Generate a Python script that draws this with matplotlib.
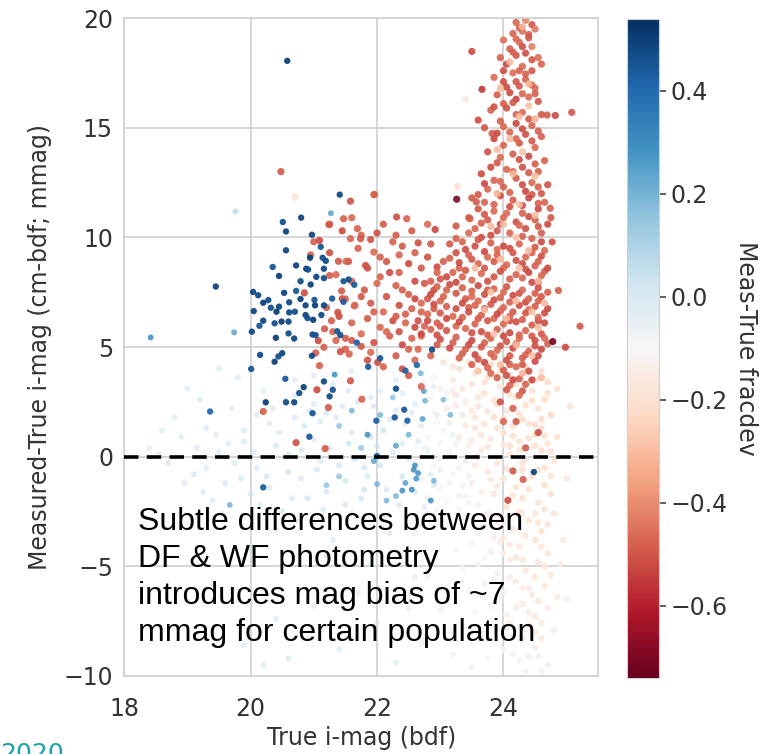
import matplotlib.pyplot as plt
from matplotlib.colors import Normalize
from matplotlib.cm import ScalarMappable

# (true i-mag, measured-true mmag, meas-true fracdev)
pale_pts = [
    (18.4, 0.4, 0.03), (18.7, -0.3, 0.05), (18.9, 0.9, 0.02), (19.1, -0.8, 0.06), (19.3, 1.3, 0.04),
    (19.5, 0.2, 0.03), (19.2, 2.6, 0.05), (18.8, 1.8, 0.02), (19.6, -1.2, 0.06), (19.9, 0.7, 0.04),
    (20.1, -0.5, 0.05), (20.3, 1.5, 0.03), (20.6, 0.1, 0.07), (20.8, -1.0, 0.05), (21.0, 0.8, 0.04),
    (21.2, 2.0, 0.06), (21.4, -0.4, 0.08), (21.6, 1.1, 0.05), (21.8, -1.5, 0.07), (22.0, 0.5, 0.06),
    (22.2, 1.7, 0.04), (22.4, -0.9, 0.08), (22.6, 2.4, 0.03), (22.8, 0.3, 0.02), (23.0, -0.6, 0.01),
    (23.2, 1.0, -0.02), (19.4, -2.0, 0.04), (19.7, 2.2, 0.03), (20.0, -1.7, 0.05), (20.2, 3.0, 0.02),
    (20.5, -2.5, 0.06), (20.7, 2.8, 0.04), (20.9, -1.9, 0.07), (21.1, -0.2, 0.05), (21.3, 3.3, 0.03),
    (21.5, -2.2, 0.06), (21.7, 2.5, 0.05), (21.9, 0.9, 0.07), (22.1, -2.8, 0.04), (22.3, 3.5, 0.02),
    (22.5, -0.1, 0.06), (22.7, 1.4, 0.03), (22.9, -1.3, 0.04), (23.1, 2.9, -0.03), (19.8, 3.6, 0.03),
    (20.4, -3.3, 0.05), (21.0, -3.0, 0.04), (21.6, 3.9, 0.02), (22.2, -3.5, 0.05), (22.8, -2.6, 0.03),
    (20.1, 1.9, 0.04), (20.6, -0.7, 0.06), (21.1, 1.6, 0.05), (21.5, -1.1, 0.07), (21.9, 2.7, 0.04),
    (22.4, 0.6, 0.05), (22.9, 3.2, 0.01), (20.3, -1.4, 0.05), (20.8, 0.3, 0.06), (21.3, -3.8, 0.03),
    (21.8, -0.5, 0.06), (22.3, 2.1, 0.04), (22.7, -3.1, 0.03), (23.3, 0.8, -0.04), (20.0, -4.2, 0.04),
    (20.5, -5.0, 0.03), (21.2, -4.5, 0.05), (21.7, -6.2, 0.03), (22.6, -5.5, 0.02), (23.4, -1.8, -0.05),
    (19.0, 3.1, 0.03), (18.6, 1.2, 0.02), (19.5, 4.0, 0.04), (20.9, -8.3, 0.04), (22.0, -7.6, 0.03),
    (20.6, -9.2, 0.05), (21.4, -8.8, 0.03), (22.5, -6.9, 0.02), (23.2, -8.0, -0.05), (20.2, -9.5, 0.04),
    (19.3, -0.5, 0.03), (19.9, 1.2, 0.05), (20.4, 0.5, 0.06), (21.0, 2.4, 0.04), (21.6, -2.6, 0.05),
    (22.1, 1.2, 0.07), (22.6, -1.6, 0.06), (20.7, 3.5, 0.03), (21.2, -1.6, 0.06), (22.4, 2.9, 0.03),
    (19.15, 0.4, 0.04), (19.45, 1.0, 0.03), (19.75, -0.3, 0.05), (20.05, 0.2, 0.04), (20.25, -0.9, 0.06),
    (20.45, 1.1, 0.05), (20.65, -1.9, 0.04), (20.85, 1.4, 0.06), (21.05, -0.6, 0.07), (21.25, 0.4, 0.05),
    (21.45, 2.3, 0.04), (21.65, -0.1, 0.08), (21.85, -0.9, 0.06), (22.05, -0.4, 0.07), (22.25, 0.2, 0.05),
    (22.45, 1.5, 0.04), (22.65, 0.7, 0.03), (22.85, -0.8, 0.02), (19.55, -2.6, 0.04), (19.85, -1.0, 0.05),
    (20.15, -2.2, 0.04), (20.35, 2.2, 0.03), (20.55, 2.6, 0.05), (20.75, -2.9, 0.04), (20.95, 2.1, 0.06),
    (21.15, -2.4, 0.05), (21.35, 1.8, 0.04), (21.55, 0.6, 0.07), (21.75, -1.9, 0.06), (21.95, 2.3, 0.04),
    (22.15, -1.5, 0.06), (22.35, -2.2, 0.05), (22.55, 2.0, 0.03), (22.75, -2.3, 0.03), (22.95, 1.9, 0.01),
    (23.15, -1.2, -0.03), (19.25, -1.6, 0.04), (18.95, -1.2, 0.03), (18.55, 0.1, 0.02), (19.65, 0.6, 0.04),
    (20.7, 1.8, 0.05), (21.55, 3.0, 0.04), (22.05, 3.0, 0.03), (21.0, 3.7, 0.03), (22.5, -4.2, 0.03),
    (21.9, -4.9, 0.04), (21.0, -6.8, 0.03), (20.4, -7.4, 0.04), (19.9, -8.6, 0.03), (22.3, -9.4, 0.02),
]

pink_pts = [
    (23.05, 4.3, -0.18), (23.3, 4.0, -0.2), (23.55, 3.8, -0.16), (23.8, 4.2, -0.22), (24.1, 3.7, -0.19),
    (24.35, 4.1, -0.24), (24.6, 3.9, -0.2), (22.9, 3.6, -0.12), (23.2, 3.5, -0.15), (24.7, 3.4, -0.22),
    (23.0, 3.1, -0.13), (23.25, 2.8, -0.16), (23.5, 3.3, -0.18), (23.7, 2.9, -0.2), (23.95, 3.2, -0.17),
    (24.2, 2.7, -0.21), (24.45, 3.0, -0.19), (24.65, 2.6, -0.23), (22.85, 2.7, -0.1), (23.4, 2.5, -0.15),
    (23.1, 2.2, -0.14), (23.35, 1.9, -0.16), (23.6, 2.3, -0.18), (23.85, 1.8, -0.2), (24.05, 2.1, -0.17),
    (24.3, 1.7, -0.21), (24.55, 2.2, -0.19), (24.75, 1.9, -0.23), (22.95, 1.6, -0.11), (23.7, 1.5, -0.17),
    (24.4, 1.5, -0.2), (23.05, 1.2, -0.12), (23.3, 0.9, -0.15), (23.55, 1.3, -0.17), (23.8, 0.8, -0.18),
    (24.0, 1.1, -0.2), (24.25, 0.7, -0.19), (24.5, 1.0, -0.22), (24.7, 0.6, -0.2), (22.8, 0.9, -0.09),
    (23.45, 0.5, -0.14), (24.15, 1.4, -0.21), (23.15, 0.2, -0.12), (23.4, -0.2, -0.14), (23.65, 0.3, -0.16),
    (23.9, -0.3, -0.17), (24.1, 0.1, -0.19), (24.35, -0.1, -0.2), (24.6, 0.3, -0.21), (22.9, -0.4, -0.09),
    (24.8, -0.2, -0.18), (23.2, -0.8, -0.12), (23.5, -1.2, -0.14), (23.75, -0.7, -0.16), (24.0, -1.0, -0.18),
    (24.2, -1.4, -0.19), (24.45, -0.9, -0.2), (24.65, -1.3, -0.21), (23.0, -1.4, -0.1), (22.7, -1.0, -0.08),
    (23.3, -1.8, -0.12), (23.6, -2.2, -0.14), (23.85, -1.7, -0.16), (24.05, -2.3, -0.18), (24.3, -1.9, -0.2),
    (24.55, -2.1, -0.19), (24.75, -1.7, -0.21), (22.95, -2.4, -0.09), (23.1, -2.0, -0.1), (23.4, -2.8, -0.12),
    (23.7, -3.2, -0.14), (23.95, -2.7, -0.16), (24.15, -3.3, -0.17), (24.4, -2.9, -0.19), (24.6, -3.4, -0.2),
    (23.15, -3.1, -0.1), (24.8, -2.6, -0.18), (23.5, -3.9, -0.12), (23.8, -4.3, -0.14), (24.0, -3.7, -0.15),
    (24.25, -4.1, -0.17), (24.5, -3.8, -0.19), (24.7, -4.4, -0.18), (23.25, -4.2, -0.1), (23.6, -4.9, -0.12),
    (23.9, -5.3, -0.13), (24.1, -4.7, -0.15), (24.35, -5.2, -0.17), (24.55, -4.8, -0.18), (24.75, -5.4, -0.16),
    (23.35, -5.1, -0.1), (23.7, -5.8, -0.12), (24.0, -6.2, -0.13), (24.2, -5.7, -0.15), (24.45, -6.3, -0.16),
    (24.65, -5.9, -0.17), (23.45, -6.1, -0.1), (24.85, -6.4, -0.14), (23.8, -6.8, -0.11), (24.05, -7.2, -0.13),
    (24.3, -6.7, -0.15), (24.5, -7.3, -0.16), (24.7, -6.9, -0.15), (23.55, -7.1, -0.1), (23.9, -7.8, -0.11),
    (24.15, -8.2, -0.13), (24.4, -7.7, -0.14), (24.6, -8.3, -0.15), (23.65, -8.0, -0.1), (24.8, -7.9, -0.13),
    (24.0, -8.8, -0.11), (24.25, -9.3, -0.12), (24.5, -8.7, -0.14), (23.75, -9.2, -0.1), (24.7, -9.5, -0.13),
    (24.35, -9.8, -0.12), (23.5, -9.6, -0.09), (22.6, -3.5, -0.07), (22.8, -5.5, -0.08), (23.0, -7.0, -0.08),
    (22.7, -8.5, -0.07), (23.2, -9.0, -0.08), (22.5, -6.3, -0.06), (25.0, -1.0, -0.16), (25.05, 2.3, -0.18),
    (24.95, -3.8, -0.15), (25.0, -6.5, -0.14), (23.9, 2.4, -0.22), (24.1, 0.5, -0.21), (24.3, -0.6, -0.2),
    (24.5, -2.6, -0.18), (24.2, -4.6, -0.16), (24.4, -6.0, -0.15), (24.1, -7.6, -0.14), (24.55, -9.1, -0.13),
    (23.6, 0.0, -0.15), (23.3, -2.4, -0.11), (23.55, 1.8, -0.17), (23.2, 3.0, -0.15), (24.6, 1.3, -0.22),
    (24.85, 0.9, -0.2), (24.9, -4.9, -0.15), (23.95, -3.9, -0.15), (24.25, -2.5, -0.18), (24.65, -0.5, -0.2),
    (23.75, 3.6, -0.21), (24.5, 3.5, -0.23), (24.85, 3.1, -0.2), (23.0, 0.6, -0.1), (23.45, -0.9, -0.13),
    (23.2, 4.1, -0.17), (23.45, 4.3, -0.19), (23.7, 3.4, -0.2), (23.95, 3.9, -0.21), (24.2, 3.3, -0.2),
    (24.45, 2.55, -0.22), (24.7, 2.9, -0.21), (23.35, 3.1, -0.16), (23.6, 2.7, -0.18), (23.85, 2.6, -0.19),
    (24.1, 2.85, -0.2), (24.35, 2.35, -0.21), (24.6, 1.7, -0.22), (23.25, 2.35, -0.15), (23.5, 2.1, -0.17),
    (23.75, 2.05, -0.18), (24.0, 1.75, -0.2), (24.25, 1.95, -0.2), (24.5, 1.45, -0.21), (23.15, 1.55, -0.14),
    (23.4, 1.4, -0.16), (23.65, 1.0, -0.17), (23.9, 1.3, -0.19), (24.15, 0.95, -0.2), (24.4, 0.85, -0.2),
    (24.65, 0.95, -0.21), (23.25, 0.55, -0.13), (23.5, 0.75, -0.15), (23.75, 0.45, -0.17), (24.0, 0.55, -0.18),
    (24.25, 0.3, -0.19), (24.5, 0.5, -0.2), (24.75, 0.25, -0.2), (23.3, -0.5, -0.13), (23.55, -0.4, -0.15),
    (23.8, -1.05, -0.16), (24.05, -0.55, -0.18), (24.3, -0.3, -0.19), (24.55, -0.6, -0.2), (24.75, -0.9, -0.19),
    (23.35, -1.3, -0.12), (23.65, -1.6, -0.14), (23.9, -1.35, -0.16), (24.15, -1.75, -0.18), (24.4, -1.5, -0.19),
    (24.65, -2.4, -0.19), (23.45, -2.1, -0.12), (23.75, -2.6, -0.14), (24.0, -3.0, -0.16), (24.3, -2.6, -0.18),
    (24.55, -3.0, -0.19), (24.7, -3.1, -0.18), (23.6, -3.5, -0.13), (23.85, -3.7, -0.14), (24.1, -4.0, -0.16),
    (24.35, -3.6, -0.18), (24.6, -4.1, -0.18), (23.7, -4.6, -0.12), (24.0, -4.4, -0.14), (24.3, -4.7, -0.16),
    (24.5, -5.5, -0.17), (24.65, -5.0, -0.17), (23.85, -5.6, -0.12), (24.1, -5.5, -0.14), (24.3, -6.0, -0.15),
    (24.55, -6.6, -0.16), (23.95, -6.5, -0.12), (24.2, -6.9, -0.14), (24.4, -7.1, -0.15), (24.6, -7.6, -0.15),
    (24.05, -7.8, -0.12), (24.3, -8.3, -0.13), (24.5, -8.0, -0.14), (24.15, -9.0, -0.12), (24.4, -9.1, -0.13),
    (24.6, -9.8, -0.13), (22.9, 2.1, -0.1), (23.0, -0.1, -0.09), (22.8, -1.9, -0.08), (22.75, 0.4, -0.08),
]

lightblue_pts = [
    (21.27, 11.1, 0.25), (18.42, 5.44, 0.3), (19.74, 5.67, 0.25), (21.33, 3.74, 0.3), (22.69, 3.8, 0.2),
    (22.74, 2.99, 0.25), (22.76, 2.55, 0.2), (23.16, 1.91, 0.2), (22.72, 1.72, 0.25), (22.5, 1.0, 0.2),
    (22.3, 0.5, 0.25), (22.6, -0.4, 0.3), (22.65, -0.75, 0.3), (22.45, -1.2, 0.25), (22.55, -1.5, 0.3),
    (22.3, -1.8, 0.2), (22.0, -1.25, 0.2), (21.95, -0.2, 0.25), (21.75, 0.4, 0.15), (22.15, -2.0, 0.2),
    (22.9, -1.1, 0.2), (22.85, -2.0, 0.3), (21.85, 1.0, 0.3), (22.05, 1.9, 0.2), (19.67, -2.2, 0.2),
    (21.4, -0.9, 0.15), (21.2, -1.3, 0.15), (22.25, 2.7, 0.15), (21.6, 2.1, 0.2), (21.4, 1.4, 0.15),
    (19.76, 11.18, 0.06), (22.58, -0.6, 0.3), (22.62, -1.0, 0.28), (22.4, -1.55, 0.3), (23.05, 2.6, 0.18),
]

blue_pts = [
    (20.58, 18.05, 0.5), (21.41, 11.95, 0.47), (20.80, 10.90, 0.48), (20.51, 10.70, 0.46), (20.56, 10.27, 0.49),
    (20.97, 10.12, 0.47), (21.11, 9.57, 0.45), (20.56, 9.41, 0.48), (20.94, 9.07, 0.5), (21.14, 9.07, 0.46),
    (21.19, 8.93, 0.47), (20.72, 8.72, 0.49), (20.35, 8.65, 0.45), (20.88, 8.57, 0.48), (20.91, 8.53, 0.46),
    (21.16, 8.57, 0.47), (20.45, 8.24, 0.5), (21.04, 8.20, 0.48), (21.16, 8.14, 0.46), (20.79, 8.0, 0.47),
    (20.95, 7.85, 0.49), (21.47, 8.0, 0.45), (21.64, 7.84, 0.44), (21.55, 8.08, 0.46), (20.04, 7.51, 0.48),
    (20.12, 7.36, 0.47), (20.20, 7.02, 0.5), (20.28, 7.14, 0.46), (20.53, 7.47, 0.48), (20.72, 7.56, 0.45),
    (20.79, 7.19, 0.49), (20.61, 7.04, 0.47), (20.32, 6.79, 0.46), (20.45, 6.84, 0.48), (20.41, 6.61, 0.5),
    (20.61, 6.58, 0.47), (20.70, 6.61, 0.46), (20.87, 6.9, 0.48), (21.01, 7.15, 0.45), (21.02, 6.9, 0.49),
    (21.16, 6.9, 0.47), (21.29, 7.21, 0.44), (21.47, 7.06, 0.43), (20.87, 6.46, 0.48), (20.90, 6.32, 0.46),
    (20.99, 6.24, 0.49), (21.12, 6.46, 0.47), (20.20, 6.2, 0.48), (20.38, 6.08, 0.46), (20.49, 6.16, 0.5),
    (20.60, 6.16, 0.47), (20.14, 5.97, 0.45), (20.05, 6.64, 0.48), (20.02, 5.7, 0.47), (20.40, 5.42, 0.49),
    (20.60, 5.62, 0.46), (20.69, 5.39, 0.48), (20.98, 5.57, 0.47), (21.03, 5.54, 0.45), (21.37, 5.72, 0.44),
    (21.42, 5.54, 0.46), (19.45, 7.76, 0.48), (20.15, 4.64, 0.47), (20.38, 4.33, 0.49), (20.44, 4.57, 0.46),
    (20.50, 4.72, 0.48), (20.97, 4.6, 0.47), (20.01, 4.0, 0.45), (20.55, 3.55, 0.44), (21.16, 3.43, 0.47),
    (20.84, 3.17, 0.48), (20.77, 2.9, 0.46), (21.30, 3.05, 0.45), (21.25, 2.75, 0.47), (20.24, 2.48, 0.49),
    (20.56, 2.48, 0.46), (20.69, 2.48, 0.48), (20.98, 1.98, 0.45), (19.36, 2.06, 0.4), (20.93, 0.91, 0.44),
    (20.20, -1.4, 0.43), (22.87, 4.88, 0.47), (22.05, 4.49, 0.45), (22.63, 4.18, 0.4), (22.45, 3.92, 0.42),
    (22.30, 3.10, 0.46), (22.43, 2.14, 0.44), (22.28, 1.79, 0.45), (22.48, 1.64, 0.4), (21.99, 1.64, 0.43),
    (22.00, 0.03, 0.42), (24.48, -0.7, 0.48), (21.68, 5.2, 0.42), (21.86, 4.1, 0.44),
]

red_pts = [
    # narrow column at the faint end
    (24.2, 19.8, -0.47), (24.35, 19.9, -0.42), (24.45, 19.7, -0.5), (24.3, 19.4, -0.45), (24.15, 19.3, -0.48),
    (24.5, 19.5, -0.44), (24.4, 19.1, -0.5), (24.25, 18.9, -0.46), (24.1, 18.6, -0.49), (24.45, 18.7, -0.43),
    (24.35, 18.4, -0.51), (24.0, 19.0, -0.45), (23.95, 18.2, -0.48), (24.2, 18.3, -0.5), (24.55, 18.2, -0.46),
    (24.05, 17.9, -0.52), (24.3, 17.8, -0.47), (24.45, 17.6, -0.5), (24.15, 17.5, -0.45), (24.6, 17.9, -0.49),
    (23.85, 17.3, -0.47), (24.0, 17.1, -0.51), (24.35, 17.2, -0.48), (24.25, 16.9, -0.5), (24.5, 16.8, -0.46),
    (24.1, 16.6, -0.52), (23.9, 16.5, -0.49), (24.4, 16.4, -0.47), (24.55, 16.2, -0.5), (24.0, 16.1, -0.48),
    (24.2, 16.3, -0.53), (23.50, 18.48, -0.52), (23.66, 16.75, -0.55), (25.08, 15.7, -0.5), (24.82, 15.56, -0.52),
    (24.69, 15.58, -0.49), (23.8, 15.8, -0.48), (24.05, 15.9, -0.51), (24.3, 15.7, -0.47), (24.6, 15.6, -0.5),
    (23.95, 15.3, -0.49), (24.2, 15.2, -0.52), (24.45, 15.1, -0.48), (23.7, 15.0, -0.5), (24.1, 14.8, -0.47),
    (24.35, 14.7, -0.51), (24.6, 14.6, -0.49), (23.85, 14.5, -0.52), (24.0, 14.2, -0.48), (24.25, 14.3, -0.5),
    (24.5, 14.1, -0.47), (23.75, 13.9, -0.51), (24.15, 13.8, -0.49), (24.4, 13.7, -0.52), (24.65, 13.5, -0.48),
    (23.9, 13.4, -0.5), (24.05, 13.1, -0.47), (24.3, 13.2, -0.51), (24.55, 13.0, -0.49), (23.65, 12.9, -0.52),
    (23.85, 12.6, -0.48), (24.2, 12.7, -0.5), (24.45, 12.5, -0.47), (24.7, 12.4, -0.51), (24.0, 12.3, -0.49),
    (24.35, 12.1, -0.52), (23.75, 12.2, -0.48), (24.6, 12.0, -0.5), (23.82, 14.74, -0.5), (23.6, 15.35, -0.52),
    (24.25, 19.55, -0.48), (24.4, 19.25, -0.5), (24.2, 19.05, -0.47), (24.3, 18.7, -0.51), (24.15, 18.45, -0.49),
    (24.45, 18.1, -0.5), (24.25, 17.6, -0.48), (24.0, 17.6, -0.51), (24.35, 17.45, -0.49), (24.2, 17.1, -0.5),
    (24.45, 16.95, -0.47), (24.05, 16.85, -0.52), (24.3, 16.55, -0.48), (24.15, 16.15, -0.5), (24.5, 16.55, -0.49),
    (23.85, 15.95, -0.51), (24.2, 15.6, -0.48), (24.4, 15.4, -0.5), (24.0, 15.05, -0.47), (24.3, 14.95, -0.51),
    (24.55, 14.85, -0.49), (23.9, 14.75, -0.52), (24.2, 14.5, -0.48), (24.45, 14.4, -0.5), (23.95, 13.65, -0.47),
    (24.25, 13.55, -0.51), (24.5, 13.35, -0.49), (23.8, 13.2, -0.52), (24.15, 13.0, -0.48), (24.4, 12.95, -0.5),
    (23.95, 12.55, -0.47), (24.3, 12.4, -0.51), (24.55, 12.3, -0.49), (23.7, 12.45, -0.52), (24.1, 12.05, -0.48),
    (24.45, 11.95, -0.5),
    # widening towards the bright end
    (23.5, 11.8, -0.5), (23.7, 11.6, -0.48), (23.95, 11.9, -0.51), (24.15, 11.7, -0.49), (24.4, 11.8, -0.52),
    (24.65, 11.6, -0.48), (23.6, 11.3, -0.5), (23.85, 11.2, -0.47), (24.1, 11.4, -0.51), (24.3, 11.1, -0.49),
    (24.55, 11.3, -0.52), (23.45, 10.9, -0.48), (23.75, 10.8, -0.5), (24.0, 10.9, -0.47), (24.2, 10.7, -0.51),
    (24.5, 10.8, -0.49), (24.7, 10.6, -0.52), (23.55, 10.4, -0.48), (23.9, 10.3, -0.5), (24.1, 10.2, -0.47),
    (24.35, 10.4, -0.51), (24.6, 10.2, -0.49), (23.65, 10.0, -0.52), (24.45, 9.95, -0.48), (23.57, 11.62, -0.5),
    (23.47, 10.85, -0.49), (22.92, 10.36, -0.52), (23.25, 10.52, -0.5), (22.31, 10.93, -0.51), (22.47, 10.85, -0.49),
    (21.95, 11.95, -0.5), (24.74, 11.33, -0.48), (24.75, 10.9, -0.5), (24.77, 9.79, -0.51), (24.87, 7.58, -0.49),
    (25.21, 5.95, -0.5), (24.98, 4.99, -0.52),
    (23.6, 11.95, -0.5), (23.85, 11.5, -0.48), (24.3, 11.45, -0.51), (24.55, 11.55, -0.49), (23.7, 11.05, -0.5),
    (24.05, 11.1, -0.47), (24.4, 10.95, -0.51), (23.65, 10.65, -0.49), (23.95, 10.6, -0.52), (24.25, 10.55, -0.48),
    (24.55, 10.5, -0.5), (23.45, 10.2, -0.47), (23.8, 10.1, -0.51), (24.3, 10.05, -0.49), (24.6, 9.8, -0.52),
    (23.25, 9.95, -0.48), (23.6, 9.9, -0.5), (23.9, 9.45, -0.47), (24.1, 9.5, -0.51), (24.45, 9.3, -0.49),
    (23.4, 9.45, -0.52), (23.15, 9.05, -0.48), (23.5, 9.0, -0.5), (23.75, 9.1, -0.47), (24.2, 8.95, -0.51),
    (24.55, 8.9, -0.49), (22.95, 8.65, -0.52), (23.3, 8.6, -0.48), (23.7, 8.6, -0.5), (24.0, 8.6, -0.47),
    (24.35, 8.55, -0.51), (24.65, 8.45, -0.49), (23.1, 8.2, -0.52), (23.35, 8.2, -0.48), (23.85, 8.2, -0.5),
    (24.3, 8.15, -0.47), (24.55, 7.95, -0.51), (22.85, 8.0, -0.49), (23.25, 7.95, -0.52), (23.5, 7.55, -0.48),
    (23.75, 7.6, -0.5), (24.0, 7.5, -0.47), (24.25, 7.45, -0.51), (24.5, 7.45, -0.49), (22.9, 7.6, -0.52),
    (23.1, 7.6, -0.48), (23.4, 7.2, -0.5), (23.6, 7.1, -0.47), (23.85, 7.15, -0.51), (24.1, 7.05, -0.49),
    (24.35, 7.05, -0.52), (24.55, 7.1, -0.48), (22.8, 7.2, -0.5), (23.0, 7.1, -0.47), (23.25, 6.75, -0.51),
    (23.45, 6.8, -0.49), (23.7, 6.75, -0.52), (23.95, 6.65, -0.48), (24.15, 6.6, -0.5), (24.4, 6.7, -0.47),
    (24.65, 6.55, -0.51), (22.9, 6.75, -0.49), (23.1, 6.3, -0.52), (23.35, 6.35, -0.48), (23.6, 6.3, -0.5),
    (23.85, 6.3, -0.47), (24.1, 6.2, -0.51), (24.3, 6.25, -0.49), (24.55, 6.2, -0.52), (22.75, 5.95, -0.48),
    (23.0, 5.95, -0.5), (23.25, 5.95, -0.47), (23.5, 5.65, -0.51), (23.75, 5.55, -0.49), (24.0, 5.5, -0.52),
    (24.25, 5.55, -0.48), (24.45, 5.5, -0.5), (24.65, 5.4, -0.47), (22.95, 5.55, -0.51), (23.2, 5.2, -0.49),
    (23.45, 5.1, -0.52), (23.7, 5.2, -0.48), (23.95, 5.05, -0.5), (24.2, 5.15, -0.47), (24.5, 5.05, -0.51),
    (23.35, 4.7, -0.49), (23.55, 4.65, -0.52), (23.8, 4.7, -0.48), (24.1, 4.6, -0.5), (24.35, 4.65, -0.47),
    (24.55, 4.6, -0.51), (23.5, 4.2, -0.49), (23.7, 4.3, -0.52), (24.1, 4.2, -0.48), (24.3, 4.2, -0.5),
    (23.8, 3.8, -0.47), (24.05, 3.7, -0.51), (24.25, 3.55, -0.49), (24.45, 3.5, -0.52), (24.1, 3.25, -0.48),
    (24.3, 3.0, -0.5),
    (23.15, 9.7, -0.5), (23.35, 9.8, -0.48), (23.55, 9.6, -0.51), (23.8, 9.75, -0.49), (24.0, 9.6, -0.52),
    (24.25, 9.7, -0.48), (24.5, 9.55, -0.5), (24.65, 9.4, -0.47), (23.25, 9.3, -0.51), (23.45, 9.2, -0.49),
    (23.7, 9.35, -0.52), (23.9, 9.2, -0.48), (24.15, 9.3, -0.5), (24.35, 9.1, -0.47), (24.6, 9.15, -0.51),
    (23.05, 8.9, -0.49), (23.3, 8.85, -0.52), (23.6, 8.8, -0.48), (23.85, 8.9, -0.5), (24.05, 8.75, -0.47),
    (24.3, 8.8, -0.51), (24.5, 8.7, -0.49), (24.7, 8.6, -0.52), (23.2, 8.4, -0.48), (23.4, 8.5, -0.5),
    (23.65, 8.35, -0.47), (23.95, 8.45, -0.51), (24.2, 8.3, -0.49), (24.4, 8.4, -0.52), (24.6, 8.25, -0.48),
    (23.0, 8.1, -0.5), (23.5, 8.05, -0.47), (23.75, 8.0, -0.51), (24.1, 8.1, -0.49), (24.45, 7.95, -0.52),
    (22.4, 9.6, -0.5), (22.6, 9.3, -0.49), (22.8, 9.1, -0.51), (22.7, 8.6, -0.5), (22.95, 8.4, -0.48),
    (22.5, 8.8, -0.52), (22.85, 9.7, -0.5), (22.35, 8.4, -0.49),
    (22.75, 7.9, -0.5), (22.95, 7.75, -0.48), (23.15, 7.85, -0.51), (23.35, 7.7, -0.49), (23.6, 7.8, -0.52),
    (23.85, 7.65, -0.48), (24.05, 7.75, -0.5), (24.3, 7.6, -0.47), (24.55, 7.7, -0.51), (24.7, 7.5, -0.49),
    (22.85, 7.4, -0.52), (23.05, 7.3, -0.48), (23.25, 7.45, -0.5), (23.5, 7.3, -0.47), (23.7, 7.4, -0.51),
    (23.95, 7.25, -0.49), (24.15, 7.35, -0.52), (24.4, 7.2, -0.48), (24.6, 7.3, -0.5), (22.7, 7.0, -0.47),
    (22.9, 6.95, -0.51), (23.1, 6.85, -0.49), (23.35, 7.0, -0.52), (23.55, 6.9, -0.48), (23.8, 6.95, -0.5),
    (24.0, 6.8, -0.47), (24.25, 6.9, -0.51), (24.5, 6.85, -0.49), (24.7, 6.75, -0.52), (22.8, 6.5, -0.48),
    (23.0, 6.55, -0.5), (23.2, 6.4, -0.47), (23.45, 6.6, -0.51), (23.65, 6.45, -0.49), (23.9, 6.5, -0.52),
    (24.1, 6.4, -0.48), (24.35, 6.55, -0.5), (24.55, 6.35, -0.47), (22.65, 6.2, -0.51), (22.95, 6.1, -0.49),
    (23.3, 6.15, -0.52), (23.55, 6.05, -0.48), (23.75, 6.2, -0.5), (24.0, 6.05, -0.47), (24.2, 6.15, -0.51),
    (24.45, 6.0, -0.49), (24.65, 6.1, -0.52),
    (22.85, 5.8, -0.48), (23.1, 5.75, -0.5), (23.4, 5.85, -0.47), (23.65, 5.7, -0.51), (23.9, 5.8, -0.49),
    (24.1, 5.65, -0.52), (24.35, 5.75, -0.48), (24.6, 5.6, -0.5), (22.7, 5.5, -0.47), (23.0, 5.35, -0.51),
    (23.25, 5.45, -0.49), (23.5, 5.3, -0.52), (23.8, 5.4, -0.48), (24.05, 5.25, -0.5), (24.25, 5.4, -0.47),
    (24.5, 5.3, -0.51), (24.7, 5.15, -0.49), (23.15, 4.95, -0.52), (23.4, 4.9, -0.48), (23.65, 5.0, -0.5),
    (23.9, 4.85, -0.47), (24.15, 4.95, -0.51), (24.4, 4.8, -0.49), (24.6, 4.9, -0.52), (23.3, 4.5, -0.48),
    (23.6, 4.45, -0.5), (23.85, 4.55, -0.47), (24.05, 4.4, -0.51), (24.3, 4.5, -0.49), (24.5, 4.35, -0.52),
    (23.75, 4.05, -0.48), (24.0, 3.95, -0.5), (24.2, 4.1, -0.47), (24.4, 3.9, -0.51), (23.9, 3.6, -0.49),
    (24.15, 3.5, -0.52), (24.35, 3.3, -0.48), (24.05, 3.05, -0.5), (24.25, 2.8, -0.47), (23.95, 2.5, -0.51),
    (24.15, 2.2, -0.49), (24.15, -0.65, -0.5), (24.07, -1.99, -0.52), (24.31, -1.04, -0.49), (24.2, 1.6, -0.5),
    # sparse arm towards brighter magnitudes
    (21.55, 8.9, -0.5), (21.7, 9.5, -0.48), (21.85, 8.6, -0.51), (22.05, 9.1, -0.49), (22.2, 8.4, -0.52),
    (21.6, 8.0, -0.48), (21.8, 7.6, -0.5), (22.0, 7.9, -0.47), (22.15, 7.3, -0.51), (22.3, 7.8, -0.49),
    (21.45, 7.2, -0.52), (21.65, 6.9, -0.48), (21.9, 7.0, -0.5), (22.1, 6.6, -0.47), (22.35, 6.9, -0.51),
    (22.5, 7.4, -0.49), (21.4, 6.4, -0.52), (21.6, 6.1, -0.48), (21.85, 6.3, -0.5), (22.05, 5.9, -0.47),
    (22.25, 6.2, -0.51), (22.45, 6.5, -0.49), (22.6, 5.9, -0.52), (21.3, 5.7, -0.48), (21.5, 5.4, -0.5),
    (21.75, 5.6, -0.47), (21.95, 5.2, -0.51), (22.2, 5.5, -0.49), (22.4, 5.1, -0.52), (22.55, 5.4, -0.48),
    (21.2, 6.8, -0.5), (21.35, 8.3, -0.47), (21.25, 9.3, -0.51), (21.0, 9.8, -0.49), (21.45, 10.3, -0.52),
    (21.75, 10.1, -0.48), (22.1, 10.6, -0.5), (21.6, 10.9, -0.47), (21.25, 10.6, -0.51), (20.95, 9.2, -0.49),
    (22.6, 8.0, -0.52), (22.45, 6.1, -0.48), (22.3, 4.6, -0.5), (22.65, 4.9, -0.47), (21.85, 4.4, -0.51),
    (21.5, 4.9, -0.49), (22.8, 6.2, -0.52), (22.1, 4.1, -0.48), (22.5, 3.7, -0.5), (22.7, 3.2, -0.47),
    (21.03, 4.73, -0.5), (21.16, 4.99, -0.49), (21.42, 4.79, -0.51), (21.56, 4.68, -0.48), (21.75, 5.03, -0.5),
    (21.90, 4.76, -0.47), (22.01, 4.30, -0.51), (21.09, 4.15, -0.49), (21.58, 3.46, -0.5), (21.05, 3.05, -0.52),
    (21.76, 2.62, -0.48), (21.23, 2.24, -0.5), (20.20, 2.06, -0.49), (20.72, 0.64, -0.51), (21.18, 0.37, -0.5),
    (20.48, 13.0, -0.5), (21.47, 10.85, -0.49), (21.96, 11.95, -0.48), (21.58, 11.65, -0.51), (21.24, 10.58, -0.5),
    (21.69, 10.4, -0.49), (21.09, 9.86, -0.52), (21.58, 9.94, -0.48), (21.74, 9.94, -0.5), (21.95, 9.33, -0.47),
    (21.82, 8.72, -0.51), (21.25, 8.26, -0.49), (21.39, 8.91, -0.5), (21.51, 8.91, -0.48), (20.85, 7.47, -0.52),
    (21.44, 7.56, -0.5), (21.5, 7.19, -0.49), (21.64, 6.88, -0.47), (21.38, 6.58, -0.51), (21.17, 5.83, -0.5),
    (21.28, 6.2, -0.49), (21.07, 5.29, -0.52), (21.35, 5.3, -0.48), (21.6, 5.3, -0.5), (22.3, 10.1, -0.49),
    (22.15, 8.9, -0.5), (22.35, 9.2, -0.48), (22.65, 9.75, -0.51), (22.25, 9.8, -0.49), (22.55, 10.3, -0.5),
    (22.8, 10.6, -0.47), (22.0, 10.2, -0.51), (22.4, 7.6, -0.49), (22.6, 7.2, -0.52), (22.7, 6.6, -0.48),
    (22.3, 6.4, -0.5), (22.15, 5.7, -0.47), (22.35, 5.7, -0.51), (22.5, 4.9, -0.49), (22.7, 5.6, -0.52),
    (22.85, 4.6, -0.48), (22.95, 5.1, -0.5), (22.6, 4.4, -0.47), (22.4, 4.0, -0.51), (21.95, 6.6, -0.49),
    (21.75, 7.3, -0.5), (22.05, 8.2, -0.48), (21.9, 9.9, -0.51), (22.55, 6.75, -0.49),
    (23.26, 11.74, -0.7), (24.78, 5.25, -0.72), (24.55, 1.1, -0.52), (24.35, 0.4, -0.5), (24.0, 1.6, -0.48),
]

salmon_pts = [
    (24.3, 19.6, -0.33), (24.1, 18.0, -0.3), (24.4, 17.0, -0.32), (23.95, 16.8, -0.31), (24.25, 15.5, -0.3),
    (24.5, 15.4, -0.33), (23.9, 14.0, -0.3), (24.3, 13.9, -0.28), (24.15, 12.9, -0.31), (24.5, 12.8, -0.3),
    (23.9, 12.0, -0.32), (24.25, 11.5, -0.29), (24.5, 11.0, -0.3), (23.8, 10.5, -0.31), (24.2, 10.0, -0.28),
    (24.4, 9.4, -0.3), (23.95, 9.0, -0.32), (24.25, 8.6, -0.29), (23.55, 8.6, -0.31), (24.55, 8.0, -0.3),
    (23.8, 7.5, -0.28), (24.2, 7.1, -0.31), (24.45, 6.6, -0.29), (23.7, 6.7, -0.3), (24.05, 6.3, -0.32),
    (24.55, 5.9, -0.3), (23.85, 5.6, -0.28), (24.2, 5.1, -0.31), (24.45, 4.6, -0.29), (23.95, 4.2, -0.3),
    (23.4, 16.3, -0.15), (23.27, 12.33, -0.2), (20.70, 11.84, -0.2), (24.6, 3.6, -0.3), (24.3, 3.8, -0.32),
    (23.6, 3.9, -0.28), (24.1, 14.5, -0.3), (24.4, 16.0, -0.28), (24.0, 10.6, -0.3), (24.65, 7.0, -0.31),
]

fig = plt.figure(figsize=(7.71, 7.54), dpi=100)
ax = fig.add_axes([0.161, 0.1035, 0.615, 0.8725])
cax = fig.add_axes([0.813, 0.101, 0.0415, 0.874])

cmap = plt.colormaps["RdBu"]
norm = Normalize(vmin=-0.74, vmax=0.54)

layers = [(pale_pts, 0.55, 18), (pink_pts, 0.9, 22), (lightblue_pts, 0.85, 18),
          (red_pts, 0.9, 27), (salmon_pts, 0.9, 27), (blue_pts, 0.95, 21)]
for pts, alpha, size in layers:
    x, y, c = zip(*pts)
    ax.scatter(x, y, c=c, cmap=cmap, norm=norm, s=size, linewidths=0,
               alpha=alpha, zorder=2)

ax.axhline(0, color="black", ls=(0, (4, 2.3)), lw=2.6, zorder=3)

ax.set_xlim(18, 25.5)
ax.set_ylim(-10, 20)
ax.set_xticks([18, 20, 22, 24])
ax.set_yticks([-10, -5, 0, 5, 10, 15, 20])
ax.grid(True, color="#d0d0d0", lw=1.2, zorder=0)
ax.set_axisbelow(True)
for s in ax.spines.values():
    s.set_color("#d0d0d0")
    s.set_linewidth(1.2)
ax.tick_params(length=0, labelsize=17, labelcolor="#333333", pad=8)
ax.tick_params(axis="x", pad=15)
ax.set_xlabel("True i-mag (bdf)", fontsize=17, color="#333333", labelpad=4)
ax.set_ylabel("Measured-True i-mag (cm-bdf; mmag)", fontsize=17, color="#333333", labelpad=8)

ax.text(18.22, -2.3,
        "Subtle differences between\nDF & WF photometry\nintroduces mag bias of ~7\nmmag for certain population",
        fontsize=23, family="Liberation Sans", va="top", ha="left", linespacing=1.3, zorder=4)

cb = fig.colorbar(ScalarMappable(norm=norm, cmap=cmap), cax=cax,
                  ticks=[0.4, 0.2, 0.0, -0.2, -0.4, -0.6])
cb.outline.set_edgecolor("#d0d0d0")
cax.tick_params(labelsize=17, labelcolor="#333333", color="#444444", length=5, width=1.2)
cb.set_label("Meas-True fracdev", rotation=270, fontsize=17, color="#333333", labelpad=22)

fig.text(0.0, 0.016, "2020", color="#1aa3ad", fontsize=18, va="top", ha="left")

fig.savefig("out.png", dpi=100)
